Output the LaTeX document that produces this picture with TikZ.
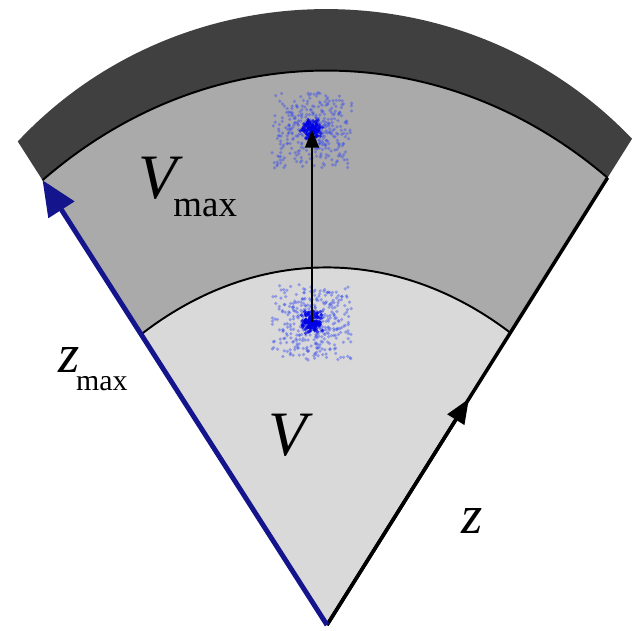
\documentclass[tikz,border=0pt]{standalone}
\usepackage{fontspec}
\setmainfont{Liberation Serif}
\usetikzlibrary{arrows.meta,calc}

\definecolor{bandDark}{RGB}{64,64,64}
\definecolor{bandMid}{RGB}{170,170,170}
\definecolor{bandLight}{RGB}{217,217,217}
\definecolor{edgeBlue}{RGB}{20,20,140}
\definecolor{dotBlue}{RGB}{60,80,235}

\begin{document}
\begin{tikzpicture}[
  x=0.02cm,y=0.02cm,
  rim/.style={draw=black,line width=1.1pt},
  edge/.style={draw=black,line width=2pt},
  zaxis/.style={draw=edgeBlue,line width=2.8pt,-{Triangle[length=20pt,width=17pt]}},
  move/.style={draw=black,line width=0.7pt,-{Triangle[length=10pt,width=8pt]}},
  dot/.style={fill=dotBlue,fill opacity=0.45},
  core/.style={fill=blue!90!black,fill opacity=0.7},
  lbl/.style={inner sep=0pt,anchor=base west}
]
\useasboundingbox[fill=white] (0,0) rectangle (642,630);

% apex and radial corners
\coordinate (O) at (327,5);
\coordinate (L1) at ($(O)+(122.6:574)$);
\coordinate (R1) at ($(O)+(57.9:574)$);
\coordinate (L2) at ($(O)+(122.6:528)$);
\coordinate (R2) at ($(O)+(57.9:528)$);
\coordinate (L3) at ($(O)+(122.6:345)$);
\coordinate (R3) at ($(O)+(57.9:345)$);
\coordinate (zt) at ($(O)+(57.9:267)$);
\coordinate (clo) at (312,308);
\coordinate (chi) at (312,500);

% bands
\fill[bandDark]  (O) -- (L1) to[bend left=46.6] (R1) -- cycle;
\fill[bandMid]   (O) -- (L2) to[bend left=40.8] (R2) -- cycle;
\fill[bandLight] (O) -- (L3) to[bend left=37.6] (R3) -- cycle;
\draw[rim] (L2) to[bend left=40.8] (R2);
\draw[rim] (L3) to[bend left=37.6] (R3);

% particle clouds
\pgfmathsetseed{11}
\foreach \c in {clo,chi}{
  \foreach \i in {1,...,170}{
    \pgfmathsetmacro\dx{40*rand}
    \pgfmathsetmacro\dy{38*rand}
    \fill[dot] ($(\c)+(\dx,\dy)$) circle (1pt);
  }
  \foreach \i in {1,...,200}{
    \pgfmathsetmacro\dx{20*(rand+rand)}
    \pgfmathsetmacro\dy{19*(rand+rand)}
    \fill[dot] ($(\c)+(\dx,\dy)$) circle (1pt);
  }
  \foreach \i in {1,...,120}{
    \pgfmathsetmacro\dx{6*(rand+rand)}
    \pgfmathsetmacro\dy{6*(rand+rand)}
    \fill[core] ($(\c)+(\dx,\dy)$) circle (1.1pt);
  }
}
\draw[move] (clo) -- (chi);

% edges
\draw[edge] (O) -- (R2);
\draw[edge,-{Triangle[length=14pt,width=11pt]}] (O) -- (zt);
\draw[zaxis] (O) -- (L2);

% labels
\node[lbl] (vmax) at (138,432)
  {\fontsize{36}{40}\selectfont\itshape V\kern-2pt\raisebox{-10.8pt}{\upshape\fontsize{21}{24}\selectfont max}};
\node[lbl] (vlab) at (268,175) {\fontsize{36}{40}\selectfont\itshape V};
\node[lbl] (zmax) at (58,258)
  {\fontsize{31}{34}\selectfont\itshape z\kern-2pt\raisebox{-10.8pt}{\upshape\fontsize{17}{20}\selectfont max}};
\node[lbl] (zlab) at (461,97) {\fontsize{31}{34}\selectfont\itshape z};

\end{tikzpicture}
\end{document}
